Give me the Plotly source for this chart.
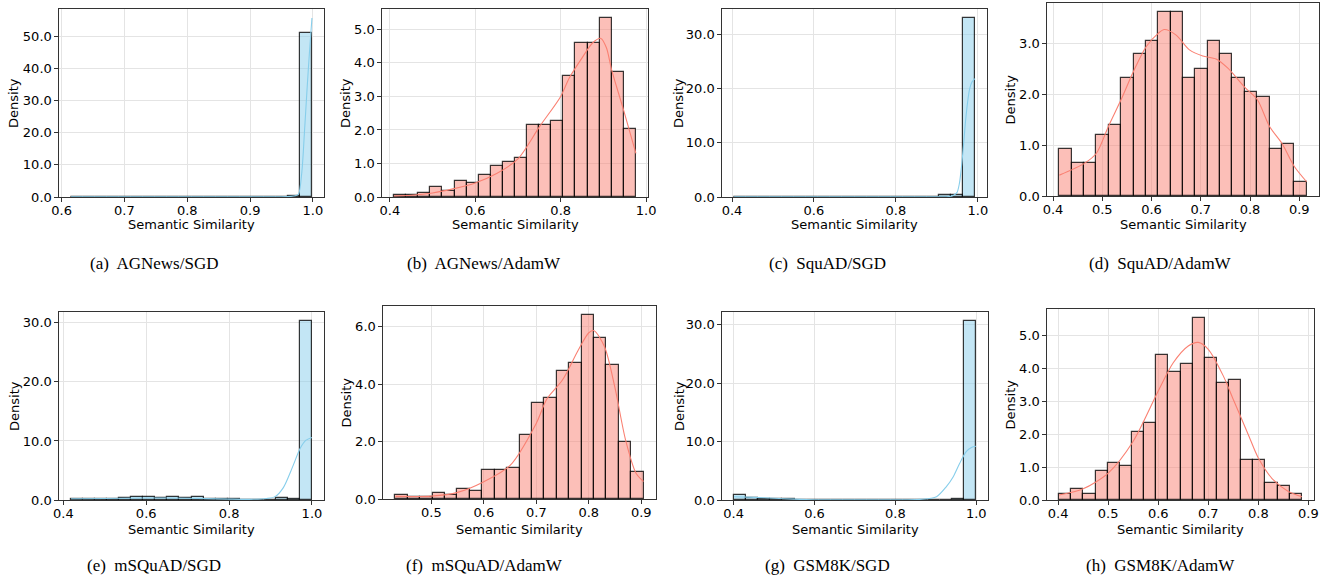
import numpy as np
import plotly.graph_objects as go

W, H = 1332, 580

# ---------------- data ----------------
# (a) AGNews / SGD
agnews_sgd_range = [0.615, 0.9985]
agnews_sgd_density = [0.1, 0.05, 0.05, 0.05, 0.1, 0.05, 0.05, 0.05, 0.05, 0.1,
                      0.05, 0.05, 0.05, 0.05, 0.05, 0.05, 0.05, 0.1, 0.3, 51.2]
agnews_sgd_kde_x = [0.615, 0.7, 0.8, 0.9, 0.95, 0.965, 0.972, 0.977, 0.9825, 0.9865, 0.9905, 0.9945, 0.9985]
agnews_sgd_kde_y = [0.1, 0.05, 0.05, 0.05, 0.1, 0.2, 0.4, 0.8, 8.0, 20.0, 33.0, 45.0, 55.8]

# (b) AGNews / AdamW
agnews_adamw_range = [0.41, 0.976]
agnews_adamw_density = [0.07, 0.07, 0.13, 0.30, 0.18, 0.48, 0.43, 0.67, 0.91, 1.03,
                        1.16, 2.14, 2.14, 2.27, 3.61, 4.59, 4.59, 5.34, 3.74, 2.02]
agnews_adamw_kde_x = [0.41, 0.45, 0.5, 0.55, 0.6, 0.65, 0.7, 0.75, 0.8, 0.82, 0.85, 0.875, 0.894, 0.907, 0.919, 0.947, 0.976]
agnews_adamw_kde_y = [0.03, 0.05, 0.12, 0.25, 0.42, 0.7, 1.14, 2.09, 3.0, 3.55, 4.15, 4.6, 4.73, 4.45, 3.8, 2.6, 1.3]

# (c) SquAD / SGD
squad_sgd_range = [0.405, 0.993]
squad_sgd_density = [0.05, 0.03, 0.03, 0.05, 0.03, 0.05, 0.03, 0.05, 0.03, 0.03,
                     0.05, 0.03, 0.03, 0.03, 0.05, 0.03, 0.05, 0.3, 0.3, 33.1]
squad_sgd_kde_x = [0.405, 0.6, 0.8, 0.9, 0.93, 0.94, 0.949, 0.955, 0.96, 0.965, 0.97, 0.975, 0.98, 0.986, 0.993]
squad_sgd_kde_y = [0.05, 0.05, 0.05, 0.05, 0.1, 0.3, 0.8, 2.5, 5.5, 9.5, 14.0, 17.5, 20.0, 21.3, 21.9]

# (d) SquAD / AdamW
squad_adamw_range = [0.4128, 0.915]
squad_adamw_density = [0.93, 0.65, 0.65, 1.20, 1.39, 2.31, 2.78, 3.05, 3.61, 3.61,
                       2.31, 2.50, 3.05, 2.78, 2.31, 2.04, 1.94, 0.93, 1.02, 0.28]
squad_adamw_kde_x = [0.4128, 0.4635, 0.488, 0.513, 0.538, 0.563, 0.589, 0.614, 0.626, 0.65, 0.677,
                     0.704, 0.731, 0.755, 0.79, 0.815, 0.84, 0.865, 0.89, 0.915]
squad_adamw_kde_y = [0.41, 0.64, 0.84, 1.38, 1.89, 2.44, 2.93, 3.2, 3.27, 3.16, 2.87,
                     2.75, 2.69, 2.51, 2.13, 1.89, 1.36, 1.03, 0.58, 0.28]

# (e) mSQuAD / SGD
msquad_sgd_range = [0.4186, 1.0]
msquad_sgd_density = [0.23, 0.23, 0.1, 0.2, 0.3, 0.5, 0.45, 0.3, 0.5, 0.35,
                      0.5, 0.25, 0.25, 0.1, 0.05, 0.05, 0.05, 0.35, 0.1, 30.33]
msquad_sgd_kde_x = [0.4186, 0.5, 0.6, 0.7, 0.8, 0.86, 0.89, 0.911, 0.931, 0.952, 0.972, 0.985, 1.0]
msquad_sgd_kde_y = [0.2, 0.25, 0.35, 0.3, 0.15, 0.12, 0.25, 0.57, 2.1, 5.4, 8.8, 10.1, 10.6]

# (f) mSQuAD / AdamW
msquad_adamw_range = [0.4314, 0.9044]
msquad_adamw_density = [0.15, 0.07, 0.07, 0.22, 0.14, 0.36, 0.29, 1.0, 1.0, 1.07,
                        2.22, 3.36, 3.52, 4.45, 4.75, 6.40, 5.60, 4.66, 2.0, 0.93]
msquad_adamw_kde_x = [0.4314, 0.5, 0.55, 0.6, 0.65, 0.7, 0.72, 0.75, 0.78, 0.8, 0.81, 0.83, 0.85, 0.87, 0.89, 0.9044]
msquad_adamw_kde_y = [0.09, 0.1, 0.23, 0.6, 1.17, 2.64, 3.48, 4.15, 5.19, 5.79, 5.86, 5.3, 3.86, 2.06, 0.9, 0.61]

# (g) GSM8K / SGD
gsm8k_sgd_range = [0.401, 0.999]
gsm8k_sgd_density = [0.86, 0.4, 0.25, 0.2, 0.1, 0.05, 0.05, 0.02, 0.02, 0.0,
                     0.0, 0.0, 0.0, 0.0, 0.05, 0.0, 0.0, 0.05, 0.25, 30.68]
gsm8k_sgd_kde_x = [0.401, 0.45, 0.5, 0.55, 0.6, 0.7, 0.8, 0.86, 0.9016, 0.926, 0.943, 0.959, 0.975, 0.988, 0.999]
gsm8k_sgd_kde_y = [0.55, 0.45, 0.3, 0.15, 0.05, 0.02, 0.02, 0.1, 0.57, 2.3, 4.0, 6.3, 8.3, 9.0, 9.2]

# (h) GSM8K / AdamW
gsm8k_adamw_range = [0.402, 0.887]
gsm8k_adamw_density = [0.17, 0.35, 0.17, 0.88, 1.13, 1.05, 2.08, 2.34, 4.42, 3.89,
                       4.15, 5.54, 4.33, 3.55, 3.64, 1.21, 1.21, 0.52, 0.44, 0.17]
gsm8k_adamw_kde_x = [0.402, 0.45, 0.5, 0.55, 0.6, 0.63, 0.66, 0.68, 0.7, 0.73, 0.75, 0.78, 0.8, 0.83, 0.86, 0.887]
gsm8k_adamw_kde_y = [0.15, 0.34, 0.82, 1.79, 3.32, 4.18, 4.69, 4.8, 4.59, 3.78, 3.06, 1.99, 1.28, 0.61, 0.26, 0.1]

captions = ["(a)\u00a0 AGNews/SGD", "(b)\u00a0 AGNews/AdamW", "(c)\u00a0 SquAD/SGD", "(d)\u00a0 SquAD/AdamW",
            "(e)\u00a0 mSQuAD/SGD", "(f)\u00a0 mSQuAD/AdamW", "(g)\u00a0 GSM8K/SGD", "(h)\u00a0 GSM8K/AdamW"]

# ---------------- styling / layout ----------------
SGD_FILL = "rgba(135,206,235,0.5)"
SGD_LINE = "#87CEEB"
ADAM_FILL = "rgba(250,128,114,0.5)"
ADAM_LINE = "#FA8072"

panels = [
    dict(rng=agnews_sgd_range, dens=agnews_sgd_density, kx=agnews_sgd_kde_x, ky=agnews_sgd_kde_y,
         fill=SGD_FILL, line=SGD_LINE, box=(59, 324, 9, 197), xd=0.1, yd=10, ytx=14),
    dict(rng=agnews_adamw_range, dens=agnews_adamw_density, kx=agnews_adamw_kde_x, ky=agnews_adamw_kde_y,
         fill=ADAM_FILL, line=ADAM_LINE, box=(382, 648, 9, 197), xd=0.2, yd=1, ytx=346),
    dict(rng=squad_sgd_range, dens=squad_sgd_density, kx=squad_sgd_kde_x, ky=squad_sgd_kde_y,
         fill=SGD_FILL, line=SGD_LINE, box=(722, 987, 9, 197), xd=0.2, yd=10, ytx=679),
    dict(rng=squad_adamw_range, dens=squad_adamw_density, kx=squad_adamw_kde_x, ky=squad_adamw_kde_y,
         fill=ADAM_FILL, line=ADAM_LINE, box=(1047, 1319, 3, 196), xd=0.1, yd=1, ytx=1010),
    dict(rng=msquad_sgd_range, dens=msquad_sgd_density, kx=msquad_sgd_kde_x, ky=msquad_sgd_kde_y,
         fill=SGD_FILL, line=SGD_LINE, box=(59, 324, 312, 500), xd=0.2, yd=10, ytx=14),
    dict(rng=msquad_adamw_range, dens=msquad_adamw_density, kx=msquad_adamw_kde_x, ky=msquad_adamw_kde_y,
         fill=ADAM_FILL, line=ADAM_LINE, box=(383, 656, 306, 499), xd=0.1, yd=2, ytx=346),
    dict(rng=gsm8k_sgd_range, dens=gsm8k_sgd_density, kx=gsm8k_sgd_kde_x, ky=gsm8k_sgd_kde_y,
         fill=SGD_FILL, line=SGD_LINE, box=(722, 988, 312, 500), xd=0.2, yd=10, ytx=679),
    dict(rng=gsm8k_adamw_range, dens=gsm8k_adamw_density, kx=gsm8k_adamw_kde_x, ky=gsm8k_adamw_kde_y,
         fill=ADAM_FILL, line=ADAM_LINE, box=(1047, 1314, 309, 500), xd=0.1, yd=1, ytx=1010),
]
caption_x = [154, 484, 827, 1160]
caption_y = [263, 565]

fig = go.Figure()
annotations = []
TICKFONT = dict(family="DejaVu Sans", size=13, color="black")

for i, p in enumerate(panels):
    n = i + 1
    xa = "x" if n == 1 else f"x{n}"
    ya = "y" if n == 1 else f"y{n}"
    lo, hi = p["rng"]
    dens = p["dens"]
    nb = len(dens)
    edges = np.linspace(lo, hi, nb + 1)
    centers = (edges[:-1] + edges[1:]) / 2
    width = (hi - lo) / nb

    fig.add_trace(go.Bar(x=centers, y=dens, width=[width] * nb, xaxis=xa, yaxis=ya,
                         marker=dict(color=p["fill"], line=dict(color="rgba(0,0,0,0.78)", width=1.2)),
                         hoverinfo="skip"))
    fig.add_trace(go.Scatter(x=p["kx"], y=p["ky"], mode="lines", xaxis=xa, yaxis=ya,
                             line=dict(color=p["line"], width=1.1, shape="spline", smoothing=0.8),
                             hoverinfo="skip"))

    span = hi - lo
    xr = [lo - 0.05 * span, hi + 0.05 * span]
    ymax = 1.05 * max(max(dens), max(p["ky"]))
    l, r, t, b = p["box"]
    xdom = [l / W, r / W]
    ydom = [1 - b / H, 1 - t / H]
    axcommon = dict(showgrid=True, gridcolor="#e4e4e4", gridwidth=0.8, zeroline=False,
                    showline=True, linecolor="#333333", linewidth=1.2, mirror=True,
                    ticks="outside", ticklen=3.5, tickwidth=0.9, tickcolor="#333333",
                    tickfont=TICKFONT, tickformat=".1f", automargin=False)
    fig.layout[("xaxis" if n == 1 else f"xaxis{n}")] = dict(
        domain=xdom, range=xr, anchor=ya, tick0=0, dtick=p["xd"], ticklabelstandoff=-2, **axcommon)
    fig.layout[("yaxis" if n == 1 else f"yaxis{n}")] = dict(
        domain=ydom, range=[0, ymax], anchor=xa, tick0=0, dtick=p["yd"], **axcommon)

    # axis titles
    row = 0 if i < 4 else 1
    annotations.append(dict(text="Semantic Similarity", xref="paper", yref="paper",
                            x=(l + r) / 2 / W, y=1 - (224 if row == 0 else 529) / H,
                            xanchor="center", yanchor="middle", showarrow=False,
                            font=dict(family="DejaVu Sans", size=13, color="black")))
    annotations.append(dict(text="Density", xref="paper", yref="paper", textangle=-90,
                            x=p["ytx"] / W, y=1 - (t + b) / 2 / H,
                            xanchor="center", yanchor="middle", showarrow=False,
                            font=dict(family="DejaVu Sans", size=13, color="black")))
    annotations.append(dict(text=captions[i], xref="paper", yref="paper",
                            x=caption_x[i % 4] / W, y=1 - caption_y[row] / H,
                            xanchor="center", yanchor="middle", showarrow=False,
                            font=dict(family="Liberation Serif", size=17, color="black")))

fig.update_layout(width=W, height=H, autosize=False,
                  margin=dict(l=0, r=0, t=0, b=0, pad=0, autoexpand=False),
                  paper_bgcolor="white", plot_bgcolor="white", showlegend=False,
                  bargap=0, annotations=annotations)

fig.write_html("out.html", config={"displayModeBar": False},
               post_script="document.body.style.margin='0px';document.body.style.overflow='hidden';")
